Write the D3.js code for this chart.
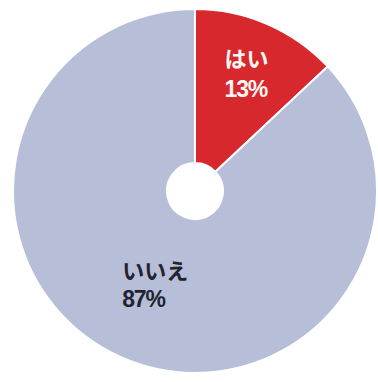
<!DOCTYPE html>
<html>
<head>
<meta charset="utf-8">
<script src="https://cdn.jsdelivr.net/npm/d3@7"></script>
<style>
html,body{margin:0;padding:0;background:#fff;}
svg{display:block;}
</style>
</head>
<body>
<svg id="chart" width="378" height="382"></svg>
<script>
const categories = ["はい", "いいえ"];
const values = [13, 87];
const valueLabels = ["13%", "87%"];

const colors = ["#d7282d", "#b7bed8"];
const textColors = ["#fff6f4", "#23232e"];
const labelRadius = [130, 100];

const W = 378, H = 382;
const cx = 195, cy = 191, R = 182, r0 = 28;

const svg = d3.select("#chart");
const g = svg.append("g").attr("transform", `translate(${cx},${cy})`);

const data = categories.map((c, i) => ({cat: c, value: values[i], label: valueLabels[i], i}));
const pie = d3.pie().value(d => d.value).sort(null);
const arcs = pie(data);
const arc = d3.arc().innerRadius(r0).outerRadius(R);

g.selectAll("path.slice").data(arcs).join("path")
  .attr("class", "slice")
  .attr("d", arc)
  .attr("fill", d => colors[d.data.i])
  .attr("stroke", "#ffffff")
  .attr("stroke-width", 2)
  .attr("stroke-linejoin", "round");

const labels = g.selectAll("g.lbl").data(arcs).join("g").attr("class", "lbl");
labels.each(function(d) {
  const lr = labelRadius[d.data.i];
  const c = d3.arc().innerRadius(lr).outerRadius(lr).centroid(d);
  const grp = d3.select(this);
  const t = grp.append("text")
    .attr("font-family", "'Noto Sans CJK JP', 'Noto Sans', sans-serif")
    .attr("font-weight", "bold")
    .attr("fill", textColors[d.data.i]);
  t.append("tspan").attr("x", 0).attr("y", 0).attr("font-size", 22).text(d.data.cat);
  t.append("tspan").attr("x", 0).attr("y", d.data.i === 0 ? 30 : 28)
    .attr("font-size", 23).attr("letter-spacing", -1.2)
    .attr("font-family", "'Liberation Sans', Arial, sans-serif")
    .text(d.data.label);
  const bb = t.node().getBBox();
  grp.attr("transform", `translate(${c[0] - bb.x - bb.width / 2},${c[1] - bb.y - bb.height / 2})`);
});
</script>
</body>
</html>
